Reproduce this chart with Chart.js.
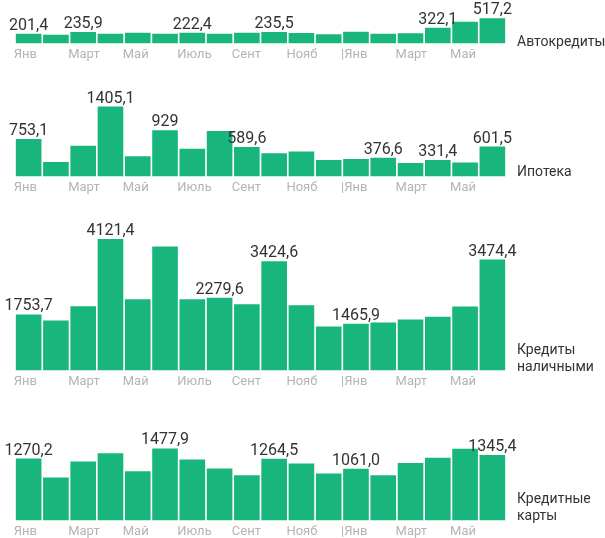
<!DOCTYPE html>
<html><head><meta charset="utf-8">
<script src="https://cdn.jsdelivr.net/npm/chart.js@4"></script>
<style>
html,body{margin:0;padding:0;background:#fff;overflow:hidden;width:605px;height:538px}
.panel{position:absolute;left:0;width:522px}
.name{position:absolute;left:517px;font:14px Roboto, sans-serif;color:#333;line-height:17px;white-space:nowrap}
</style></head><body>
<div class="panel" style="top:0;height:67px"><canvas id="c1"></canvas></div>
<div class="panel" style="top:80px;height:120px"><canvas id="c2"></canvas></div>
<div class="panel" style="top:200px;height:194px"><canvas id="c3"></canvas></div>
<div class="panel" style="top:395px;height:149px"><canvas id="c4"></canvas></div>
<div class="name" style="top:33px">Автокредиты</div>
<div class="name" style="top:163px">Ипотека</div>
<div class="name" style="top:341px">Кредиты<br>наличными</div>
<div class="name" style="top:490px">Кредитные<br>карты</div>
<script>
const months = ['Янв','Фев','Март','Апр','Май','Июнь','Июль','Авг','Сент','Окт','Нояб','Дек','|Янв','Фев','Март','Апр','Май','Июнь'];

const autoLoans = [201.4,180,235.9,200,220,200,222.4,200,220,235.5,215,190,240,200,210,322.1,448,517.2];
const autoNotes = ['201,4',null,'235,9',null,null,null,'222,4',null,null,'235,5',null,null,null,null,null,'322,1',null,'517,2'];

const mortgage = [753.1,288,615,1405.1,408,929,555,916,589.6,468,500,328,348,376.6,268,331.4,281,601.5];
const mortgageNotes = ['753,1',null,null,'1405,1',null,'929',null,null,'589,6',null,null,null,null,'376,6',null,'331,4',null,'601,5'];

const cashLoans = [1753.7,1565,2013,4121.4,2232,3880,2232,2279.6,2076,3424.6,2044,1377,1465.9,1502,1596,1679,2003,3474.4];
const cashNotes = ['1753,7',null,null,'4121,4',null,null,null,'2279,6',null,'3424,6',null,null,'1465,9',null,null,null,null,'3474,4'];

const cards = [1270.2,880,1210,1382,1010,1477.9,1251,1065,928,1264.5,1169,962,1061.0,928,1182,1285,1470,1345.4];
const cardNotes = ['1270,2',null,null,null,null,'1477,9',null,null,null,'1264,5',null,null,'1061,0',null,null,null,null,'1345,4'];

const GREEN = '#18b67c';

const valueLabels = {
  id: 'valueLabels',
  afterDatasetsDraw(chart) {
    const ctx = chart.ctx;
    const ds = chart.data.datasets[0];
    const meta = chart.getDatasetMeta(0);
    ctx.save();
    ctx.font = '16px Roboto';
    ctx.fillStyle = '#333';
    ctx.textAlign = 'center';
    ctx.textBaseline = 'alphabetic';
    meta.data.forEach((bar, i) => {
      const t = ds.notes[i];
      if (t) ctx.fillText(t, bar.x, bar.y - 4);
    });
    ctx.restore();
  }
};

function makeChart(id, values, notes, yMax) {
  return new Chart(document.getElementById(id), {
    type: 'bar',
    data: {
      labels: months,
      datasets: [{ data: values, notes: notes, backgroundColor: GREEN, barPercentage: 1, categoryPercentage: 0.94 }]
    },
    options: {
      responsive: true, maintainAspectRatio: false, animation: false,
      layout: { padding: { left: 15, right: 16, top: 0, bottom: 0 } },
      plugins: { legend: { display: false }, tooltip: { enabled: false } },
      scales: {
        x: {
          grid: { display: false, drawTicks: false },
          border: { display: false },
          ticks: {
            autoSkip: false, maxRotation: 0, align: 'start', labelOffset: -15, padding: 4,
            color: '#b4b4b4', font: { family: 'Roboto', size: 13 },
            callback: (v, i) => (i % 2 === 0 ? months[i] : '')
          }
        },
        y: { display: false, min: 0, max: yMax }
      }
    },
    plugins: [valueLabels]
  });
}

makeChart('c1', autoLoans, autoNotes, 896);
makeChart('c2', mortgage, mortgageNotes, 1941);
makeChart('c3', cashLoans, cashNotes, 5341);
makeChart('c4', cards, cardNotes, 2577);
</script>
</body></html>
